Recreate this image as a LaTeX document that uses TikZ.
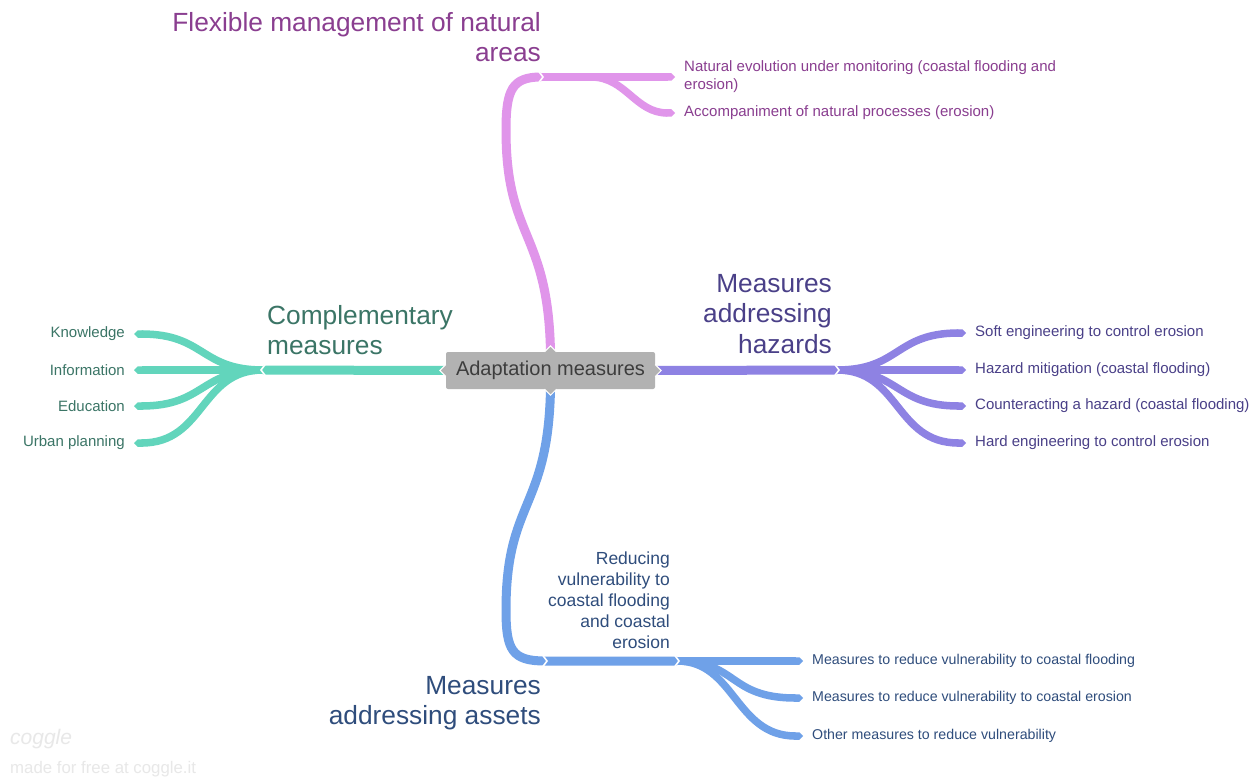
\documentclass[tikz,border=0pt]{standalone}
\usepackage{fontspec}
\setmainfont{Liberation Sans}
\usetikzlibrary{arrows.meta}
\definecolor{cmline}{HTML}{62D5BC}
\definecolor{cmtext}{HTML}{3B7566}
\definecolor{hzline}{HTML}{8E82E3}
\definecolor{hztext}{HTML}{4A4088}
\definecolor{fmline}{HTML}{E095EA}
\definecolor{fmtext}{HTML}{8A3E90}
\definecolor{asline}{HTML}{6FA1E8}
\definecolor{astext}{HTML}{2F4D7C}
\definecolor{hubgray}{HTML}{B2B2B2}
\definecolor{hubtext}{HTML}{3D3D3D}
\begin{document}
\begin{tikzpicture}
[x=1pt, y=-1pt,
  hub/.style={fill=hubgray, rounded corners=2pt, minimum width=209pt,
    minimum height=37pt, text=hubtext, font=\fontsize{20}{24}\selectfont},
  topic/.style={inner sep=0pt, font=\fontsize{26.3}{30.5}\selectfont},
  leaf/.style={inner xsep=9pt, inner ysep=1pt, font=\fontsize{15}{18}\selectfont},
  smallleaf/.style={leaf, font=\fontsize{14.2}{16}\selectfont},
  trunk/.style={line width=9pt},
  twig/.style={line width=7.5pt, -{Triangle Cap}},
  notch/.style={draw=white, line width=1.6pt},
  hubtip/.style={fill=hubgray, draw=white, line width=1pt}]
\useasboundingbox[fill=white] (0,0) rectangle (1258,778);
%% central node
\node[hub] (hub) at (550.5,370.5) {Adaptation measures};
%% topics
\node[topic, text=fmtext, align=right, anchor=east] (fm) at (541,37)
  {Flexible management of natural\\areas};
\node[topic, text=cmtext, align=left, anchor=west] (cm) at (267,330)
  {Complementary\\measures};
\node[topic, text=hztext, align=right, anchor=east] (hz) at (832,314)
  {Measures\\addressing\\hazards};
\node[topic, text=astext, align=right, anchor=east] (as) at (541,703)
  {Measures\\addressing assets};
\node[inner sep=0pt, text=astext, align=right, anchor=east,
  font=\fontsize{17.5}{21}\selectfont] (rv) at (670,600)
  {Reducing\\vulnerability to\\coastal flooding\\and coastal\\erosion};
%% junctions
\coordinate (fmjoin) at (541,77);
\coordinate (cmjoin) at (263,370);
\coordinate (hzjoin) at (837,370);
\coordinate (asjoin) at (545,661);
\coordinate (rvjoin) at (677,661);
%% leaves
\node[leaf, text=fmtext, align=left, anchor=west] (nat) at (675,77)
  {Natural evolution under monitoring (coastal flooding and\\erosion)};
\node[leaf, text=fmtext, anchor=west] (acc) at (675,113)
  {Accompaniment of natural processes (erosion)};
\foreach \nodename/\y/\txt in {know/334/Knowledge, info/370/Information,
    edu/406/Education, urban/443/Urban planning} {
  \node[leaf, text=cmtext, anchor=east] (\nodename) at (134,\y) {\txt};
}
\foreach \nodename/\y/\txt in {soft/333/Soft engineering to control erosion,
    mitig/370/Hazard mitigation (coastal flooding),
    counter/406/Counteracting a hazard (coastal flooding),
    hard/443/Hard engineering to control erosion} {
  \node[leaf, text=hztext, anchor=west] (\nodename) at (966,\y) {\txt};
}
\foreach \nodename/\y/\txt in {vflood/661/Measures to reduce vulnerability to coastal flooding,
    veros/698/Measures to reduce vulnerability to coastal erosion,
    vother/736/Other measures to reduce vulnerability} {
  \node[smallleaf, text=astext, anchor=west] (\nodename) at (803,\y) {\txt};
}
%% trunks
\draw[trunk, fmline] (hub.north) .. controls (548,230) and (506,240) .. (506,130)
  .. controls (506,90) and (512,77) .. (fmjoin);
\draw[trunk, cmline] (hub.west) -- (cmjoin);
\draw[trunk, hzline] (hub.east) -- (hzjoin);
\draw[trunk, asline] (hub.south) .. controls (548,510) and (506,500) .. (506,610)
  .. controls (506,650) and (512,661) .. (asjoin) -- (rvjoin);
%% twigs
\draw[twig, fmline] (fmjoin) -- (nat.west);
\draw[twig, fmline] (fmjoin) -- ++(50,0) .. controls +(35,0) and +(-40,0) .. (acc.west);
\foreach \nodename in {know, info, edu, urban} {
  \draw[twig, cmline] (cmjoin) .. controls (200,370) and (205,0|-\nodename.east)
    .. (\nodename.east);
}
\foreach \nodename in {soft, mitig, counter, hard} {
  \draw[twig, hzline] (hzjoin) .. controls (900,370) and (895,0|-\nodename.west)
    .. (\nodename.west);
}
\draw[twig, asline] (rvjoin) -- (vflood.west);
\draw[twig, asline] (rvjoin) .. controls (738,661) and (728,698) .. (veros.west);
\draw[twig, asline] (rvjoin) .. controls (735,661) and (735,736) .. (vother.west);
%% notches
\draw[notch] ([xshift=4pt,yshift=8pt]cmjoin) -- ([xshift=-2pt]cmjoin) -- ([xshift=4pt,yshift=-8pt]cmjoin);
\draw[notch] ([xshift=-4pt,yshift=8pt]hzjoin) -- ([xshift=2pt]hzjoin) -- ([xshift=-4pt,yshift=-8pt]hzjoin);
\draw[notch] ([xshift=-4pt,yshift=8pt]fmjoin) -- ([xshift=2pt]fmjoin) -- ([xshift=-4pt,yshift=-8pt]fmjoin);
\draw[notch] ([xshift=-4pt,yshift=8pt]asjoin) -- ([xshift=2pt]asjoin) -- ([xshift=-4pt,yshift=-8pt]asjoin);
\draw[notch] ([xshift=-4pt,yshift=8pt]rvjoin) -- ([xshift=2pt]rvjoin) -- ([xshift=-4pt,yshift=-8pt]rvjoin);
\filldraw[hubtip] ([yshift=6pt]hub.west) -- ([xshift=-6pt]hub.west) -- ([yshift=-6pt]hub.west);
\filldraw[hubtip] ([yshift=6pt]hub.east) -- ([xshift=6pt]hub.east) -- ([yshift=-6pt]hub.east);
\filldraw[hubtip] ([xshift=-6pt]hub.north) -- ([yshift=6pt]hub.north) -- ([xshift=6pt]hub.north);
\filldraw[hubtip] ([xshift=-6pt]hub.south) -- ([yshift=-6pt]hub.south) -- ([xshift=6pt]hub.south);
%% watermark
\node[inner sep=0pt, anchor=west, text=black!9, font=\fontsize{21}{21}\selectfont\itshape]
  (logo) at (10,739) {coggle};
\node[inner sep=0pt, anchor=west, text=black!9, font=\fontsize{16.8}{18}\selectfont]
  (madeby) at (10,769) {made for free at coggle.it};
\end{tikzpicture}
\end{document}
